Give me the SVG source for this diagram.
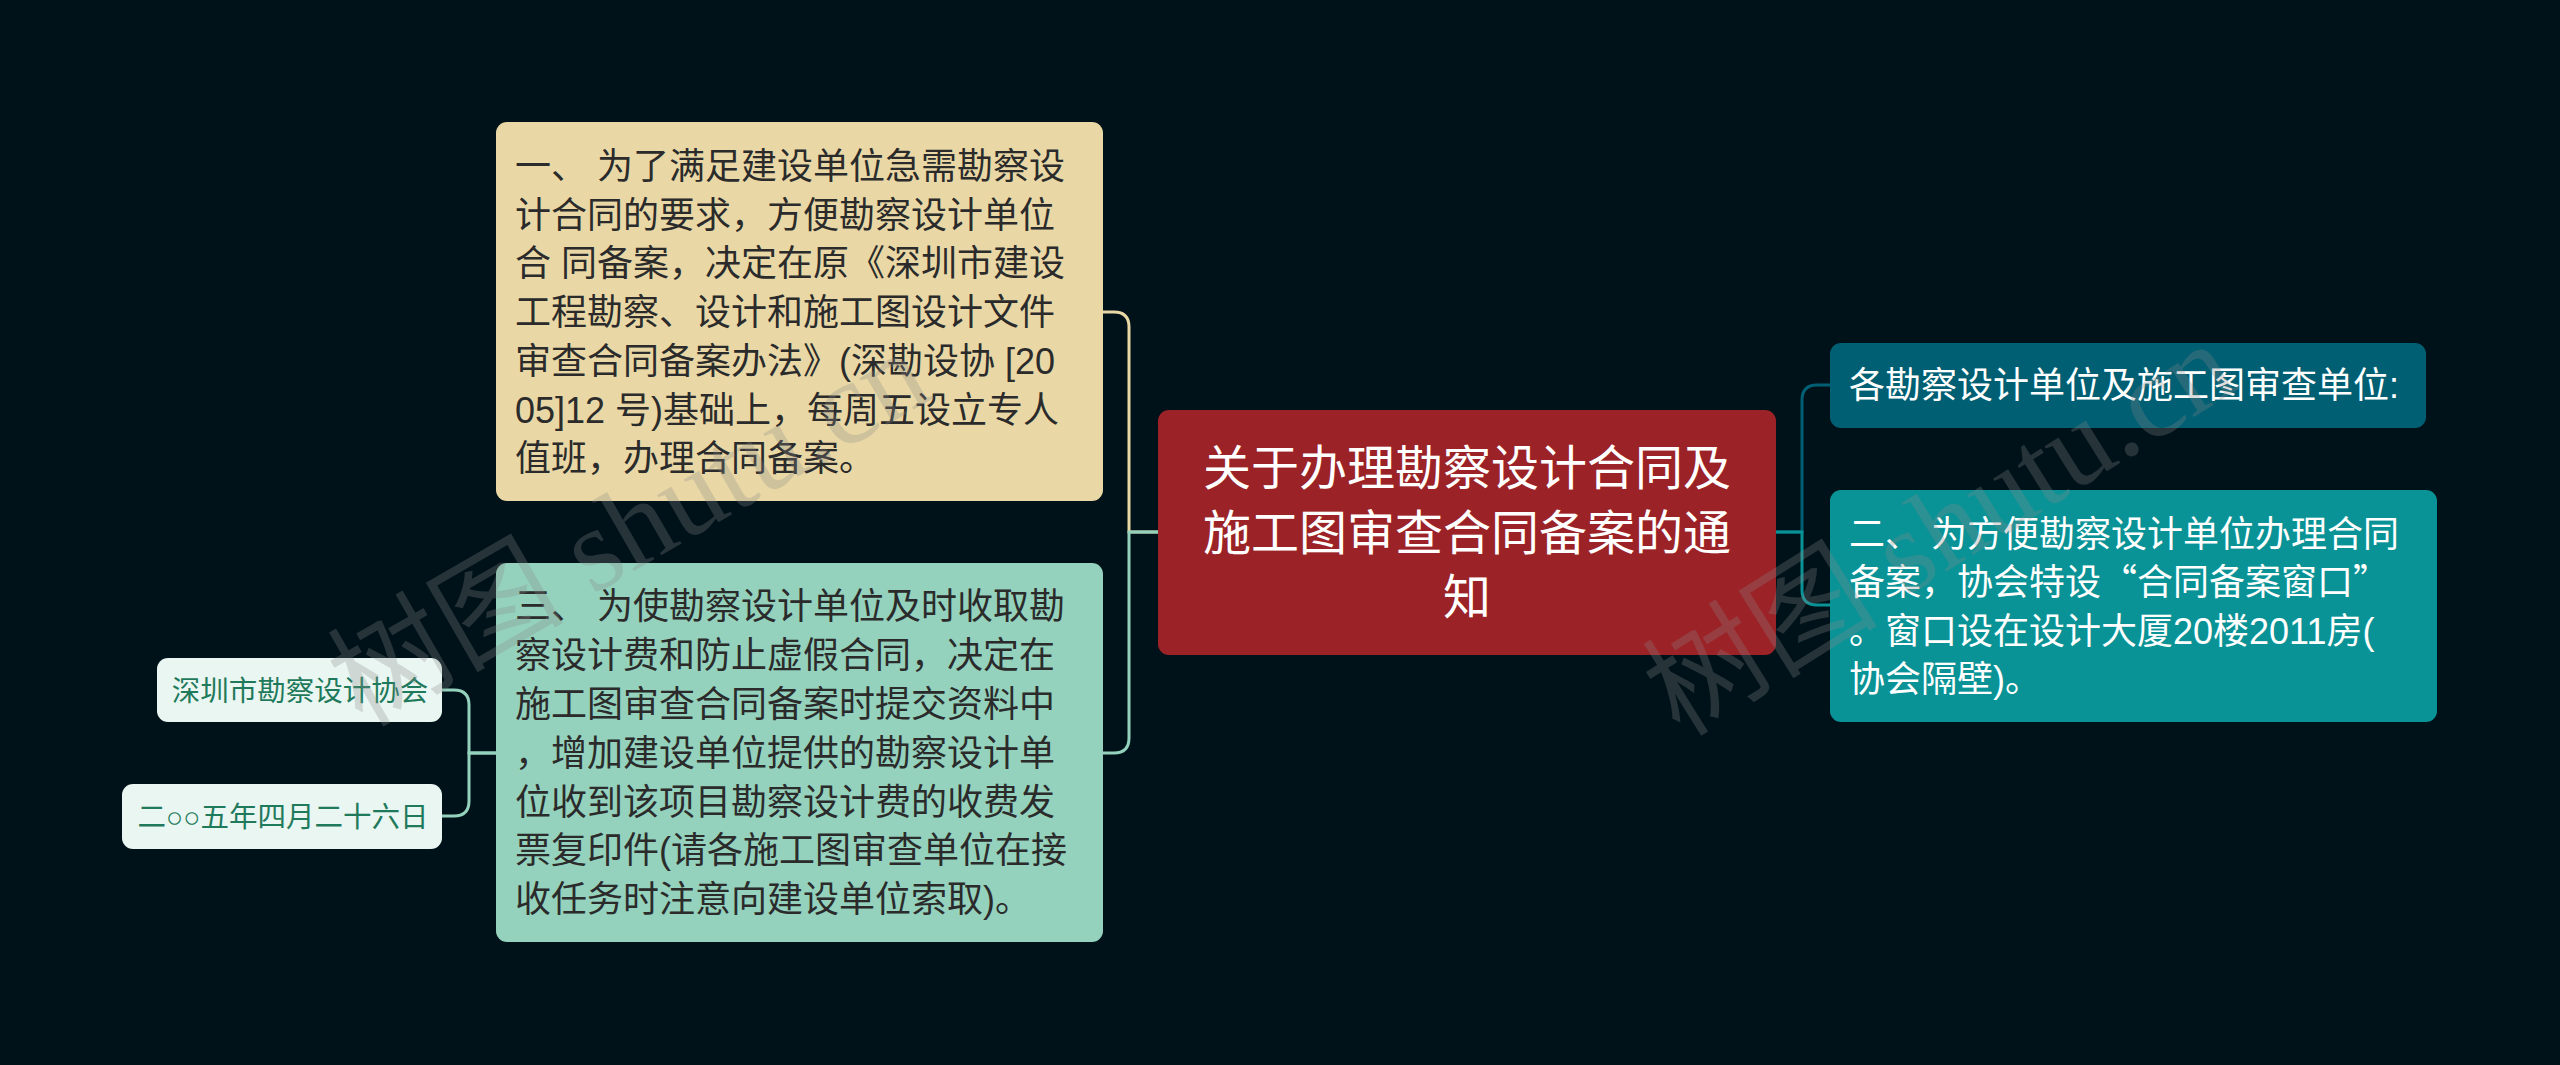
<svg xmlns="http://www.w3.org/2000/svg" width="2560" height="1065" viewBox="0 0 2560 1065">
<style>
.t{font-family:"Liberation Sans","Noto Sans CJK SC",sans-serif;}
.cjk{font-family:"Noto Sans CJK SC",sans-serif;}
.body{font-size:36px;fill:#2b2b2b;}
.root{font-size:48px;fill:#ffffff;}
.wt{font-size:36px;fill:#ffffff;}
.sm{font-size:28.5px;fill:#1f7a5c;}
.con{fill:none;stroke-width:3;}
.wm{font-family:"Liberation Serif","Noto Sans CJK SC",serif;font-size:118px;fill:#8a8a8a;fill-opacity:0.28;}
</style>
<rect x="0" y="0" width="2560" height="1065" fill="#001219"/>
<g id="connectors">
<path class="con" stroke="#e9d8a6" d="M1158,532 H1129 V327 Q1129,312 1114,312 H1103"/>
<path class="con" stroke="#94d2bd" d="M1158,532 H1129 V738 Q1129,753 1114,753 H1103"/>
<path class="con" stroke="#005f73" d="M1776,532 H1802 V400 Q1802,385 1817,385 H1830"/>
<path class="con" stroke="#0a9396" d="M1776,532 H1802 V590 Q1802,605 1817,605 H1830"/>
<path class="con" stroke="#94d2bd" d="M496,753 H469 V705 Q469,690 454,690 H442"/>
<path class="con" stroke="#94d2bd" d="M496,753 H469 V801 Q469,816 454,816 H442"/>
</g>
<g id="root">
<rect x="1158" y="410" width="618" height="245" rx="11" fill="#9b2226"/>
<text class="t root" text-anchor="middle" x="1467" y="485">关于办理勘察设计合同及</text>
<text class="t root" text-anchor="middle" x="1467" y="550">施工图审查合同备案的通</text>
<text class="t root" text-anchor="middle" x="1467" y="614">知</text>
</g>
<g id="node-yi">
<rect x="496" y="122" width="607" height="379" rx="11" fill="#e9d8a6"/>
<text class="t body" x="515" y="179">一、 为了满足建设单位急需勘察设</text>
<text class="t body" x="515" y="228">计合同的要求，方便勘察设计单位</text>
<text class="t body" x="515" y="276">合 同备案，决定在原《深圳市建设</text>
<text class="t body" x="515" y="325">工程勘察、设计和施工图设计文件</text>
<text class="t body" x="515" y="374">审查合同备案办法》(深勘设协 [20</text>
<text class="t body" x="515" y="423">05]12 号)基础上，每周五设立专人</text>
<text class="t body" x="515" y="471">值班，办理合同备案。</text>
</g>
<g id="node-san">
<rect x="496" y="563" width="607" height="379" rx="11" fill="#94d2bd"/>
<text class="t body" x="515" y="619">三、 为使勘察设计单位及时收取勘</text>
<text class="t body" x="515" y="668">察设计费和防止虚假合同，决定在</text>
<text class="t body" x="515" y="717">施工图审查合同备案时提交资料中</text>
<text class="t body" x="515" y="766">，增加建设单位提供的勘察设计单</text>
<text class="t body" x="515" y="815">位收到该项目勘察设计费的收费发</text>
<text class="t body" x="515" y="863">票复印件(请各施工图审查单位在接</text>
<text class="t body" x="515" y="912">收任务时注意向建设单位索取)。</text>
</g>
<g id="node-xiehui">
<rect x="157" y="658" width="285" height="64" rx="11" fill="#eaf6f2"/>
<text class="t sm" text-anchor="middle" x="300" y="701">深圳市勘察设计协会</text>
</g>
<g id="node-date">
<rect x="122" y="784" width="320" height="65" rx="11" fill="#eaf6f2"/>
<text class="t sm" text-anchor="middle" x="283" y="827">二○○五年四月二十六日</text>
</g>
<g id="node-ge">
<rect x="1830" y="343" width="596" height="85" rx="11" fill="#005f73"/>
<text class="t wt" x="1849" y="398">各勘察设计单位及施工图审查单位:</text>
</g>
<g id="node-er">
<rect x="1830" y="490" width="607" height="232" rx="11" fill="#0a9396"/>
<text class="t wt" x="1849" y="547">二、 为方便勘察设计单位办理合同</text>
<text class="t wt" x="1849" y="595">备案，协会特设<tspan class="cjk">“</tspan>合同备案窗口<tspan class="cjk">”</tspan></text>
<text class="t wt" x="1849" y="644">。窗口设在设计大厦20楼2011房(</text>
<text class="t wt" x="1849" y="692">协会隔壁)。</text>
</g>
<g id="watermark">
<text class="wm" transform="translate(362,728) rotate(-30)">树图 shutu.cn</text>
<text class="wm" transform="translate(1680,738) rotate(-32)">树图 shutu.cn</text>
</g>
</svg>
